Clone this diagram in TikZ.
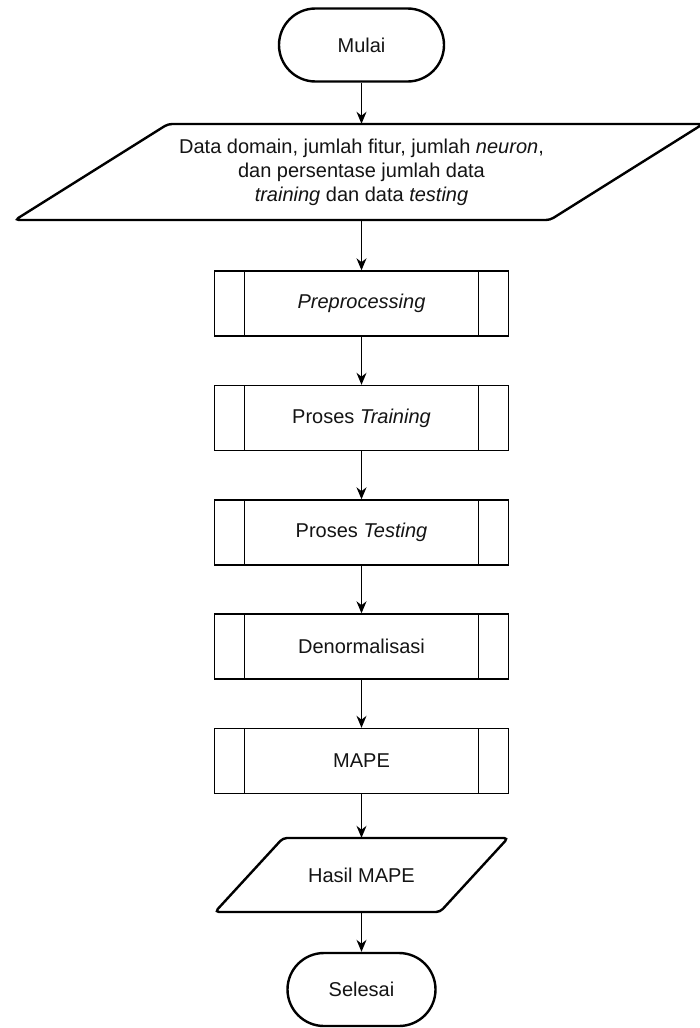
\documentclass[tikz,border=0pt]{standalone}
\usepackage{fontspec}
\setmainfont{Liberation Sans}
\usetikzlibrary{arrows.meta}
\begin{document}
\begin{tikzpicture}[x=1pt,y=-1pt,
  every node/.style={font=\fontsize{20}{24}\selectfont, text=black!92},
  term/.style={draw=black, line width=2.4pt, rounded corners=36.5pt,
    minimum height=73pt, inner sep=0pt},
  subproc/.style={draw=black, line width=1.4pt, minimum width=294pt,
    minimum height=65pt, inner sep=0pt,
    path picture={\draw[line width=1.4pt]
      ([xshift=30pt]path picture bounding box.north west) --
      ([xshift=30pt]path picture bounding box.south west)
      ([xshift=-30pt]path picture bounding box.north east) --
      ([xshift=-30pt]path picture bounding box.south east);}},
  iotext/.style={inner sep=0pt, align=center},
  io/.style={draw=black, line width=2.4pt, rounded corners=4pt},
  flow/.style={-{Stealth[length=12pt,width=10pt]}, line width=1.3pt}
]
\useasboundingbox (0,0) rectangle (699,1028);
\fill[white] (0,0) rectangle (699,1028);

% start
\node[term, minimum width=165pt] (mulai) at (361.5,45) {Mulai};

% input data
\path[io] (15,220) -- (550,220) -- (703,124) -- (168,124) -- cycle;
\node[iotext, minimum height=96pt] (input) at (361.5,172)
  {Data domain, jumlah fitur, jumlah \textit{neuron},\\
   dan persentase jumlah data\\
   \textit{training} dan data \textit{testing}};

% sub-processes
\node[subproc] (pre)   at (361.5,303.5) {\textit{Preprocessing}};
\node[subproc] (train) at (361.5,418)   {Proses \textit{Training}};
\node[subproc] (test)  at (361.5,532.5) {Proses \textit{Testing}};
\node[subproc] (denorm) at (361.5,646.5) {Denormalisasi};
\node[subproc] (mape)  at (361.5,761)   {MAPE};

% output
\path[io] (215,912) -- (440,912) -- (508,838) -- (283,838) -- cycle;
\node[iotext, minimum height=74pt] (hasil) at (361.5,875) {Hasil MAPE};

% end
\node[term, minimum width=148pt] (selesai) at (361.5,989.5) {Selesai};

% flow
\draw[flow] (mulai.south) -- (input.north);
\draw[flow] (input.south) -- (pre.north);
\draw[flow] (pre.south) -- (train.north);
\draw[flow] (train.south) -- (test.north);
\draw[flow] (test.south) -- (denorm.north);
\draw[flow] (denorm.south) -- (mape.north);
\draw[flow] (mape.south) -- (hasil.north);
\draw[flow] (hasil.south) -- (selesai.north);
\end{tikzpicture}
\end{document}
